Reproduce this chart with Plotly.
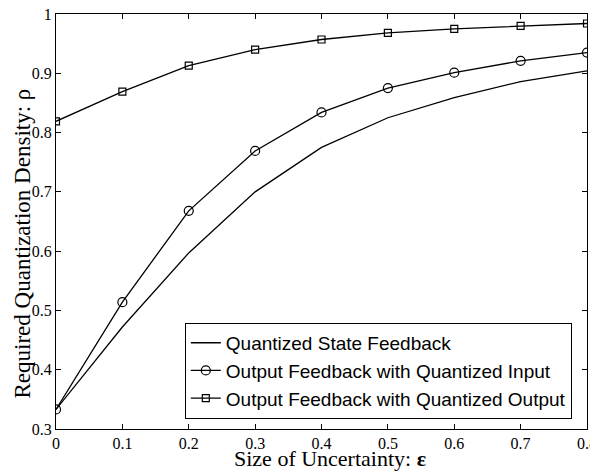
import plotly.graph_objects as go

eps = [0, 0.1, 0.2, 0.3, 0.4, 0.5, 0.6, 0.7, 0.8]
state_fb = [0.333, 0.472, 0.597, 0.700, 0.775, 0.825, 0.859, 0.886, 0.904]
out_fb_qin = [0.333, 0.514, 0.668, 0.769, 0.834, 0.875, 0.901, 0.921, 0.935]
out_fb_qout = [0.819, 0.869, 0.913, 0.940, 0.957, 0.968, 0.975, 0.980, 0.984]

names = ["Quantized State Feedback",
         "Output Feedback with Quantized Input",
         "Output Feedback with Quantized Output"]

x_ticks = [0, 0.1, 0.2, 0.3, 0.4, 0.5, 0.6, 0.7, 0.8]
x_ticktext = ["0", "0.1", "0.2", "0.3", "0.4", "0.5", "0.6", "0.7", "0.8"]
y_ticks = [0.3, 0.4, 0.5, 0.6, 0.7, 0.8, 0.9, 1.0]
y_ticktext = ["0.3", "0.4", "0.5", "0.6", "0.7", "0.8", "0.9", "1"]

x_title = "Size of Uncertainty: <b>ε</b>"
y_title = "Required Quantization Density: ρ"

fig = go.Figure()
fig.add_trace(go.Scatter(x=eps, y=state_fb, mode="lines", name=names[0],
                         line=dict(color="black", width=1.3)))
fig.add_trace(go.Scatter(x=eps, y=out_fb_qin, mode="lines+markers", name=names[1],
                         line=dict(color="black", width=1.3),
                         marker=dict(symbol="circle-open", size=9, color="black",
                                     line=dict(width=1.2, color="black"))))
fig.add_trace(go.Scatter(x=eps, y=out_fb_qout, mode="lines+markers", name=names[2],
                         line=dict(color="black", width=1.3),
                         marker=dict(symbol="square-open", size=7, color="black",
                                     line=dict(width=1.2, color="black"))))

axis_common = dict(showgrid=False, zeroline=False, showline=True, linecolor="black",
                   linewidth=1.2, mirror="ticks", ticks="inside", ticklen=5,
                   tickcolor="black", tickwidth=1, automargin=False,
                   ticklabeloverflow="allow",
                   tickfont=dict(family="Liberation Serif", size=16, color="black"))

# page has an 8px body margin: figure drawn at (8,8), so size 590x463
fig.update_layout(
    width=590, height=463,
    margin=dict(l=48, r=11, t=6, b=42, autoexpand=False),
    paper_bgcolor="white", plot_bgcolor="white",
    showlegend=True,
    legend=dict(x=0.607, y=0.14, xanchor="center", yanchor="middle",
                bgcolor="white", bordercolor="black", borderwidth=1,
                font=dict(family="Liberation Sans", size=19, color="black"),
                tracegroupgap=0, itemwidth=30),
    xaxis=dict(range=[0, 0.8], tickvals=x_ticks, ticktext=x_ticktext, **axis_common),
    yaxis=dict(range=[0.3, 1.0], tickvals=y_ticks, ticktext=y_ticktext, **axis_common),
    annotations=[
        dict(text=x_title, xref="paper", yref="paper", x=0.516, y=0,
             xanchor="center", yanchor="middle", yshift=-29, showarrow=False,
             font=dict(family="Liberation Serif", size=22, color="black")),
        dict(text=y_title, xref="paper", yref="paper", x=0, y=0.447,
             xanchor="center", yanchor="middle", xshift=-34, textangle=-90,
             showarrow=False,
             font=dict(family="Liberation Serif", size=23, color="black")),
    ],
)

fig.write_html("out.html")
